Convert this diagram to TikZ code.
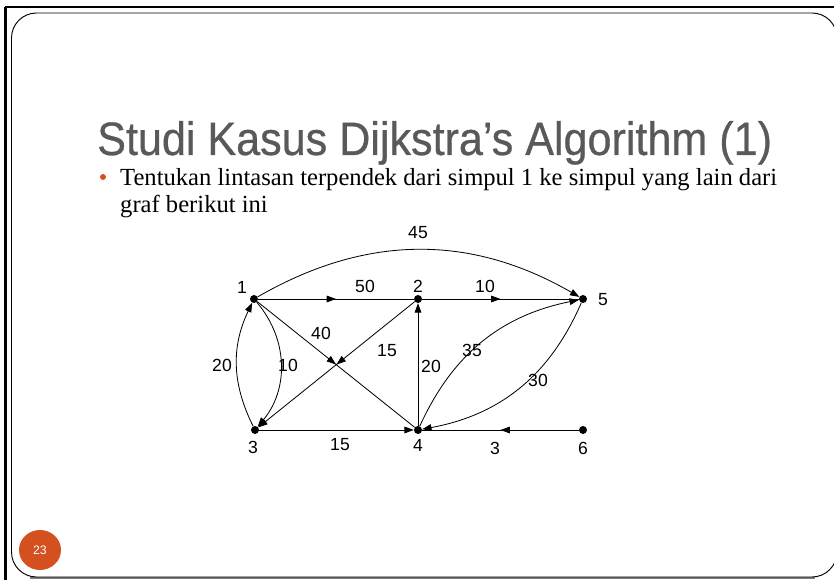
\documentclass[tikz,border=0pt]{standalone}
\usepackage{fontspec}
\setmainfont{Liberation Serif}
\newfontfamily\titlefont[FakeStretch=0.92,FakeBold=0.6]{Liberation Sans}
\newfontfamily\graphfont{Liberation Sans}
\usetikzlibrary{arrows.meta,decorations.markings,shapes.geometric}
\definecolor{slideorange}{HTML}{D4501E}
\definecolor{titlegray}{HTML}{595959}

\begin{document}
\begin{tikzpicture}[x=0.3mm, y=0.3mm,
  every node/.style={font=\graphfont\fontsize{15}{18}\selectfont},
  vtx/.style={circle, fill=black, inner sep=0pt, minimum size=2.4mm},
  ed/.style={line width=0.7pt, -{Triangle[length=2.8mm,width=2mm]}},
  plain/.style={line width=0.7pt},
  mid/.style={postaction={decorate},
              decoration={markings, mark=at position 0.5 with {\arrow{Triangle[length=2.8mm,width=2mm]}}}},
  lbl/.style={inner sep=0pt}]

\useasboundingbox (0,0) rectangle (834,580);

%% ---- slide frame ----
\draw[line width=2pt] (5,573) -- (834,573);
\draw[line width=2.5pt] (5.5,573) -- (5.5,0);
\draw[black!50, line width=1.8pt] (30,2) -- (815,2);
\draw[line width=0.8pt, rounded corners=7.5mm] (11.5,3) rectangle (837,567);

%% ---- title and text ----
\node[anchor=base west, inner sep=0pt, text=titlegray,
      font=\titlefont\fontsize{40}{46}\selectfont] (title) at (97,425)
      {Studi Kasus Dijkstra’s Algorithm (1)};
\node[circle, fill=slideorange, inner sep=0pt, minimum size=1.8mm] (bul) at (103,403) {};
\node[anchor=base west, inner sep=0pt, font=\rmfamily\fontsize{21}{23}\selectfont] (tx1) at (120,394)
      {Tentukan lintasan terpendek dari simpul 1 ke simpul yang lain dari};
\node[anchor=base west, inner sep=0pt, font=\rmfamily\fontsize{21}{23}\selectfont] (tx2) at (120,367)
      {graf berikut ini};

%% ---- vertices ----
\node[vtx] (v1) at (254,281) {};
\node[vtx] (v2) at (418,281) {};
\node[vtx] (v5) at (583,281) {};
\node[vtx] (v3) at (255,150) {};
\node[vtx] (v4) at (418,150) {};
\node[vtx] (v6) at (583,150) {};

\node[lbl] (t1) at (242,293) {1};
\node[lbl] (t2) at (418,294) {2};
\node[lbl] (t5) at (603,280) {5};
\node[lbl] (t3) at (253,133) {3};
\node[lbl] (t4) at (418,135) {4};
\node[lbl] (t6) at (583,132) {6};

%% ---- edges ----
\draw[ed] (v1) to[bend left=30] (v5);
\draw[plain, mid] (v1) -- (v2);
\draw[plain, mid] (v2) -- (v5);
\draw[ed] (v3) to[bend left=26] (v1);
\draw[ed] (v1) to[bend left=40] (v3);
\draw[plain, mid] (v1) -- (v4);
\draw[ed, mid] (v2) -- (v3);
\draw[ed] (v3) -- (v4);
\draw[ed] (v4) -- (v2);
\draw[ed] (v4) to[bend left=27] (v5);
\draw[ed] (v5) to[bend left=28] (v4);
\draw[plain, mid] (v6) -- (v4);

%% ---- weights ----
\node[lbl] (w45) at (418,347) {45};
\node[lbl] (w50) at (365,294) {50};
\node[lbl] (w10a) at (485,294) {10};
\node[lbl] (w40) at (321,247) {40};
\node[lbl] (w15a) at (387,229) {15};
\node[lbl] (w20a) at (222,215) {20};
\node[lbl] (w10b) at (288,215) {10};
\node[lbl] (w20b) at (431,214) {20};
\node[lbl] (w35) at (472,230) {35};
\node[lbl] (w30) at (538,200) {30};
\node[lbl] (w15b) at (340,135) {15};
\node[lbl] (w3) at (495,132) {3};

%% ---- page number ----
\node[ellipse, fill=slideorange, inner sep=0pt, minimum width=12.6mm, minimum height=12mm,
      text=white, font=\graphfont\fontsize{10.5}{12}\selectfont] (pg) at (40,30) {23};
\end{tikzpicture}
\end{document}
